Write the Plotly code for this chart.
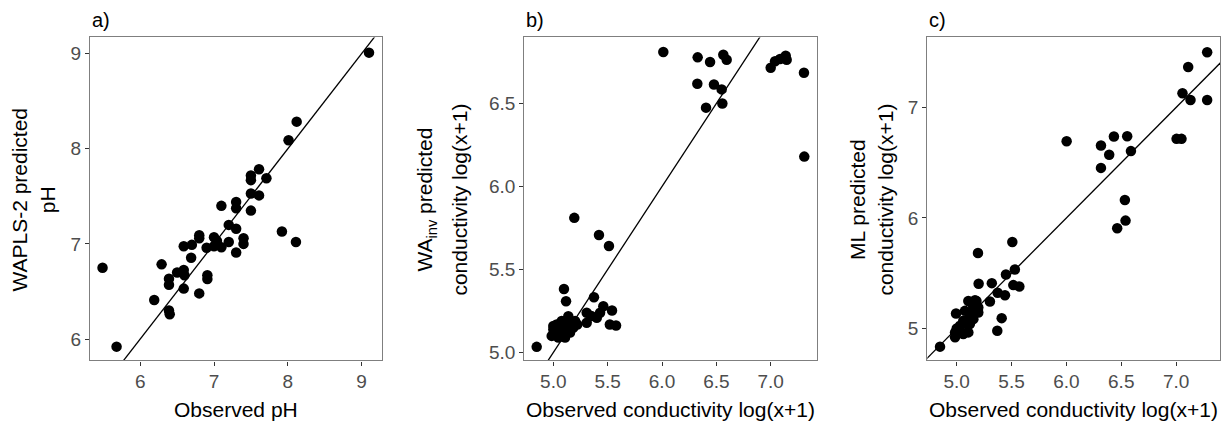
import plotly.graph_objects as go

# ---------------- data ----------------
a_obs = [5.49, 5.68, 6.19, 6.29, 6.39, 6.39, 6.39, 6.40, 6.50, 6.59, 6.60, 6.59, 6.59, 6.69, 6.70,
         6.80, 6.80, 6.80, 6.91, 6.91, 6.90, 7.00, 7.00, 7.04, 7.10, 7.10, 7.20, 7.20, 7.30, 7.30,
         7.30, 7.30, 7.40, 7.40, 7.50, 7.50, 7.50, 7.50, 7.61, 7.61, 7.71, 7.92, 8.01, 8.11, 8.12, 9.10]
a_pred = [6.75, 5.92, 6.41, 6.785, 6.635, 6.57, 6.30, 6.26, 6.70, 6.725, 6.67, 6.53, 6.975, 6.855, 6.99,
          7.09, 7.06, 6.48, 6.67, 6.63, 6.96, 7.07, 6.975, 7.03, 6.965, 7.40, 7.02, 7.20, 7.44, 7.375,
          7.16, 6.91, 7.06, 7.00, 7.35, 7.53, 7.72, 7.67, 7.785, 7.51, 7.69, 7.13, 8.09, 7.02, 8.285, 9.01]

b_obs = [6.012, 6.328, 6.442, 6.564, 6.595, 6.325, 6.478, 6.549, 6.405, 6.555,
         7.000, 7.040, 7.086, 7.138, 7.147, 7.306, 7.309,
         4.847, 5.193, 5.420, 5.512, 5.098, 5.117, 5.374, 5.460, 5.540, 5.520, 5.577,
         5.307, 5.307, 5.400, 5.430, 5.138, 5.147, 5.200, 5.184, 4.985, 5.000, 5.031,
         5.077, 5.046, 5.077, 5.123, 5.108, 5.154, 5.220, 5.000, 5.060, 5.350]
b_pred = [6.810, 6.778, 6.750, 6.794, 6.764, 6.619, 6.615, 6.585, 6.475, 6.500,
          6.715, 6.754, 6.768, 6.788, 6.764, 6.685, 6.180,
          5.034, 5.811, 5.708, 5.642, 5.383, 5.309, 5.333, 5.279, 5.253, 5.169, 5.163,
          5.239, 5.179, 5.209, 5.239, 5.219, 5.179, 5.190, 5.150, 5.100, 5.139, 5.169,
          5.190, 5.090, 5.120, 5.150, 5.090, 5.120, 5.169, 5.160, 5.150, 5.220]

c_obs = [4.848, 6.002, 6.315, 6.433, 6.390, 6.315, 6.554, 6.588, 6.533, 6.539, 6.463,
         7.004, 7.049, 7.058, 7.131, 7.110, 7.283, 7.283,
         5.507, 5.194, 5.200, 5.320, 5.449, 5.530, 5.516, 5.571, 5.373, 5.440, 5.303,
         5.410, 5.370, 4.994, 4.985, 4.985, 5.060, 5.106, 5.030, 5.090, 5.120, 5.150,
         5.106, 5.180, 5.150, 5.197, 5.075, 5.060, 5.000, 5.030, 5.120, 5.167, 5.152, 5.197]
c_pred = [4.835, 6.695, 6.656, 6.737, 6.572, 6.453, 6.740, 6.605, 6.162, 5.976, 5.907,
          6.716, 6.716, 7.129, 7.067, 7.366, 7.500, 7.067,
          5.782, 5.683, 5.404, 5.410, 5.488, 5.533, 5.392, 5.380, 5.323, 5.300, 5.243,
          5.093, 4.979, 5.135, 4.964, 4.919, 4.949, 4.964, 5.024, 5.039, 5.099, 5.159,
          5.249, 5.249, 5.204, 5.189, 5.159, 5.069, 5.000, 4.980, 5.040, 5.255, 5.084, 5.144]

one_to_one = [3.0, 10.0]

panel_labels = ["a)", "b)", "c)"]
x_titles = ["Observed pH", "Observed conductivity log(x+1)", "Observed conductivity log(x+1)"]
y_titles = ["WAPLS-2 predicted<br>pH",
            "WA<sub>inv</sub> predicted",
            "conductivity log(x+1)",
            "ML predicted<br>conductivity log(x+1)"]

a_ticks = [6, 7, 8, 9]
b_xticks = [5.0, 5.5, 6.0, 6.5, 7.0]
b_yticks = [5.0, 5.5, 6.0, 6.5]
c_xticks = [5.0, 5.5, 6.0, 6.5, 7.0]
c_yticks = [5, 6, 7]

# ---------------- layout geometry ----------------
W, H = 1224, 428
FONT = "Liberation Sans, Arial, sans-serif"
xdoms = [[90 / W, 382 / W], [524.3 / W, 817 / W], [927.3 / W, 1220 / W]]
ydom = [1 - 363 / H, 1 - 37.7 / H]

fig = go.Figure()
data = [(a_obs, a_pred), (b_obs, b_pred), (c_obs, c_pred)]
for i, (xo, yp) in enumerate(data):
    sfx = "" if i == 0 else str(i + 1)
    fig.add_trace(go.Scatter(x=one_to_one, y=one_to_one, mode="lines",
                             line=dict(color="black", width=1.3),
                             xaxis="x" + sfx, yaxis="y" + sfx, showlegend=False,
                             hoverinfo="skip"))
    fig.add_trace(go.Scatter(x=xo, y=yp, mode="markers",
                             marker=dict(color="black", size=10.5, line=dict(width=0)),
                             xaxis="x" + sfx, yaxis="y" + sfx, showlegend=False))

def axis(dom, rng, ticks, fmt, anchor):
    return dict(domain=dom, range=rng, tickvals=ticks, tickformat=fmt, anchor=anchor,
                showgrid=False, zeroline=False, showline=True, mirror=True,
                linecolor="#7f7f7f", linewidth=1.2, ticks="outside", ticklen=4,
                tickcolor="#333333", tickwidth=1,
                tickfont=dict(family=FONT, size=19, color="#4d4d4d"))

fig.update_layout(
    width=W, height=H, margin=dict(l=0, r=0, t=0, b=0),
    paper_bgcolor="white", plot_bgcolor="white", showlegend=False,
    xaxis=axis(xdoms[0], [5.32, 9.276], a_ticks, "d", "y"),
    yaxis=axis(ydom, [5.775, 9.17], a_ticks, "d", "x"),
    xaxis2=axis(xdoms[1], [4.733, 7.426], b_xticks, ".1f", "y2"),
    yaxis2=axis(ydom, [4.952, 6.898], b_yticks, ".1f", "x2"),
    xaxis3=axis(xdoms[2], [4.732, 7.40], c_xticks, ".1f", "y3"),
    yaxis3=axis(ydom, [4.71, 7.634], c_yticks, "d", "x3"),
)

ann = []
# panel labels
for i, lab in enumerate(panel_labels):
    ann.append(dict(text=lab, x=xdoms[i][0], y=1 - 20 / H, xref="paper", yref="paper",
                    xanchor="left", yanchor="middle", showarrow=False,
                    font=dict(family=FONT, size=20, color="black")))
# x titles
for i, t in enumerate(x_titles):
    ann.append(dict(text=t, x=(xdoms[i][0] + xdoms[i][1]) / 2, y=1 - 412 / H,
                    xref="paper", yref="paper", xanchor="center", yanchor="middle",
                    showarrow=False, font=dict(family=FONT, size=21, color="black")))
# y titles
ytitle_pos = [(33, y_titles[0]), (426, y_titles[1]), (460, y_titles[2]), (871, y_titles[3])]
for px, t in ytitle_pos:
    ann.append(dict(text=t, x=px / W, y=1 - 201 / H, xref="paper", yref="paper",
                    xanchor="center", yanchor="middle", textangle=-90, showarrow=False,
                    font=dict(family=FONT, size=21, color="black")))
fig.update_layout(annotations=ann)

fig.write_html("out.html", config={"displayModeBar": False},
               post_script="document.body.style.margin='0';document.body.style.overflow='hidden';")
